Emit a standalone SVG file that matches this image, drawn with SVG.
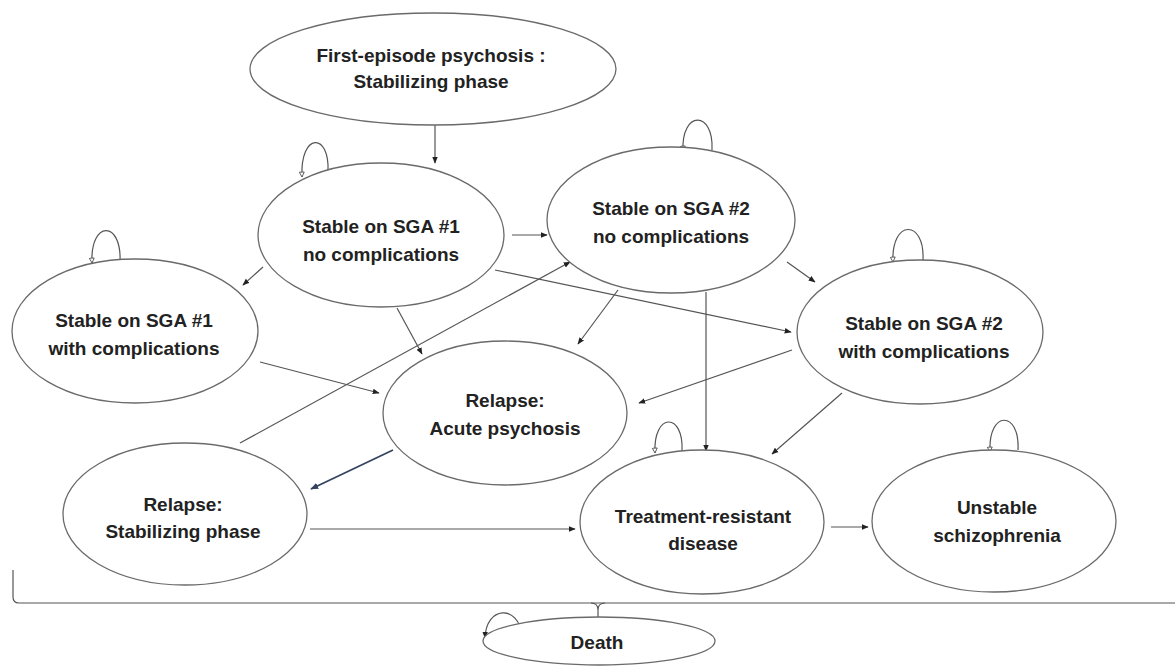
<svg xmlns="http://www.w3.org/2000/svg" width="1175" height="669" viewBox="0 0 1175 669">
<defs>
<style>
.node ellipse{fill:#fff;stroke:#6a6a6a;stroke-width:1.3}
.node text{font-family:"Liberation Sans",Arial,sans-serif;font-weight:bold;font-size:19px;fill:#222;text-anchor:middle}
.edge{fill:none;stroke:#555;stroke-width:1.2}
.loop{fill:none;stroke:#555;stroke-width:1.2}
.dark{stroke:#34435f;stroke-width:1.8}
</style>
<marker id="arr" viewBox="0 0 10 10" refX="9" refY="5" markerWidth="7" markerHeight="7" markerUnits="userSpaceOnUse" orient="auto">
<path d="M0,1 L10,5 L0,9 Z" fill="#222"/>
</marker>
<marker id="arrD" viewBox="0 0 10 10" refX="9" refY="5" markerWidth="8" markerHeight="8" markerUnits="userSpaceOnUse" orient="auto">
<path d="M0,1 L10,5 L0,9 Z" fill="#34435f"/>
</marker>
<marker id="open" viewBox="0 0 10 10" refX="8" refY="5" markerWidth="7" markerHeight="7" markerUnits="userSpaceOnUse" orient="auto">
<path d="M1,1.5 L8,5 L1,8.5 Z" fill="#fff" stroke="#555" stroke-width="1.3"/>
</marker>
</defs>
<rect width="1175" height="669" fill="#fff"/>

<g id="connectors">
<line class="edge" x1="435" y1="125" x2="435" y2="163" marker-end="url(#arr)"/>
<line class="edge" x1="512" y1="235" x2="547" y2="235" marker-end="url(#arr)"/>
<line class="edge" x1="263" y1="267" x2="243" y2="285" marker-end="url(#arr)"/>
<line class="edge" x1="397" y1="308" x2="422" y2="354" marker-end="url(#arr)"/>
<line class="edge" x1="495" y1="270" x2="791" y2="332" marker-end="url(#arr)"/>
<line class="edge" x1="260" y1="362" x2="379" y2="393" marker-end="url(#arr)"/>
<line class="edge" x1="240" y1="443" x2="570" y2="262" marker-end="url(#arr)"/>
<line class="edge" x1="618" y1="290" x2="578" y2="344" marker-end="url(#arr)"/>
<line class="edge" x1="706" y1="292" x2="706" y2="451" marker-end="url(#arr)"/>
<line class="edge" x1="787" y1="262" x2="815" y2="282" marker-end="url(#arr)"/>
<line class="edge" x1="792" y1="350" x2="639" y2="403" marker-end="url(#arr)"/>
<line class="edge" x1="842" y1="393" x2="772" y2="454" marker-end="url(#arr)"/>
<line class="edge dark" x1="393" y1="450" x2="311" y2="489" marker-end="url(#arrD)"/>
<line class="edge" x1="310" y1="529" x2="575" y2="529" marker-end="url(#arr)"/>
<line class="edge" x1="831" y1="527" x2="868" y2="527" marker-end="url(#arr)"/>
<path class="edge" d="M13,570 L13,597 Q13,603 19,603 L1175,603"/>
<path class="edge" d="M591,603 Q598,603 598,610 Q598,603 605,603 M598,609 L598,637"/>
<path class="loop" d="M328,172 C330,132 300,132 302,177" marker-end="url(#open)"/>
<path class="loop" d="M712,150 C714,110 681,110 683,151" marker-end="url(#open)"/>
<path class="loop" d="M120,262 C122,220 90,220 92,263" marker-end="url(#open)"/>
<path class="loop" d="M923,260 C925,219 891,219 893,262" marker-end="url(#open)"/>
<path class="loop" d="M682,451 C684,412 653,412 655,453" marker-end="url(#open)"/>
<path class="loop" d="M1018,450 C1020,410 988,410 990,452" marker-end="url(#open)"/>
<path class="loop" d="M522,635 C518,604 486,606 485,638" marker-end="url(#arr)"/>
</g>

<g id="n-first" class="node">
<ellipse cx="433" cy="69" rx="183" ry="56"/>
<text x="431" y="62">First-episode psychosis :</text>
<text x="431" y="88">Stabilizing phase</text>
</g>
<g id="n-sga1" class="node">
<ellipse cx="381" cy="235" rx="123" ry="72"/>
<text x="381" y="233">Stable on SGA #1</text>
<text x="381" y="261">no complications</text>
</g>
<g id="n-sga2" class="node">
<ellipse cx="671" cy="220" rx="124" ry="73"/>
<text x="671" y="215">Stable on SGA #2</text>
<text x="671" y="243">no complications</text>
</g>
<g id="n-sga1c" class="node">
<ellipse cx="135" cy="331" rx="123" ry="72"/>
<text x="134" y="327">Stable on SGA #1</text>
<text x="134" y="355">with complications</text>
</g>
<g id="n-sga2c" class="node">
<ellipse cx="920" cy="332" rx="123" ry="72"/>
<text x="924" y="330">Stable on SGA #2</text>
<text x="924" y="358">with complications</text>
</g>
<g id="n-acute" class="node">
<ellipse cx="505" cy="413" rx="122" ry="72"/>
<text x="505" y="407">Relapse:</text>
<text x="505" y="435">Acute psychosis</text>
</g>
<g id="n-relstab" class="node">
<ellipse cx="185" cy="514" rx="122" ry="71"/>
<text x="183" y="511">Relapse:</text>
<text x="183" y="538">Stabilizing phase</text>
</g>
<g id="n-trd" class="node">
<ellipse cx="702" cy="522" rx="122" ry="72"/>
<text x="703" y="523">Treatment-resistant</text>
<text x="703" y="550">disease</text>
</g>
<g id="n-unstable" class="node">
<ellipse cx="994" cy="521" rx="122" ry="71"/>
<text x="997" y="514">Unstable</text>
<text x="997" y="542">schizophrenia</text>
</g>
<g id="n-death" class="node">
<ellipse cx="599" cy="641" rx="116" ry="24" fill="none"/>
<text x="597" y="649">Death</text>
</g>
</svg>
